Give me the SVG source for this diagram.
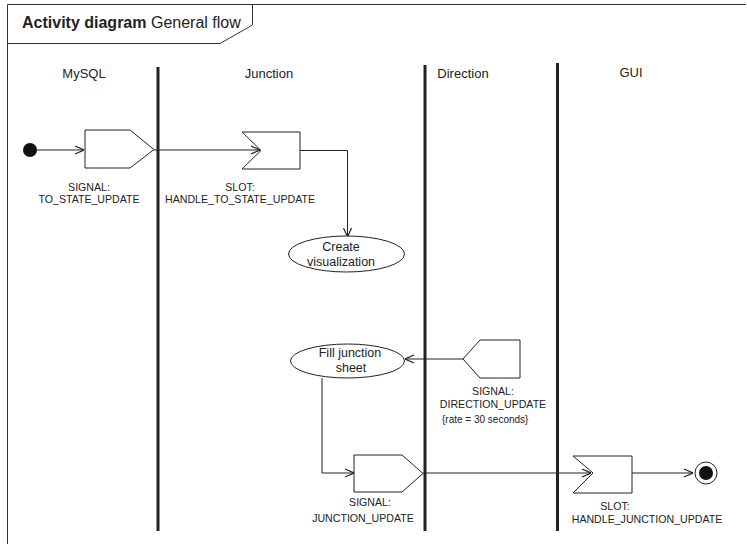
<svg xmlns="http://www.w3.org/2000/svg" width="747" height="544" viewBox="0 0 747 544">
<defs>
<marker id="arr" viewBox="0 0 10 10" refX="10" refY="5" markerWidth="10" markerHeight="10" markerUnits="userSpaceOnUse" orient="auto">
<path d="M1,1 L10,5 L1,9" fill="none" stroke="#222" stroke-width="1.2"/>
</marker>
<style>
text{font-family:"Liberation Sans",Arial,sans-serif;fill:#222}
.lane{font-size:13px;text-anchor:middle}
.lbl{font-size:10.6px;text-anchor:middle}
.nt{font-size:12.5px;text-anchor:middle}
.shape{fill:#fff;stroke:#222;stroke-width:1}
.conn{fill:none;stroke:#222;stroke-width:1;marker-end:url(#arr)}
.swim{stroke:#222;stroke-width:3}
.frame{fill:none;stroke:#333;stroke-width:1}
</style>
</defs>
<rect x="0" y="0" width="747" height="544" fill="#fff"/>
<g id="frame">
<path class="frame" d="M7.5,544 L7.5,4.5 L746,4.5"/>
<path class="frame" d="M7.5,43.5 L220,43.5 L252.5,25 L252.5,4.5"/>
<text x="22" y="28" font-size="16px"><tspan font-weight="bold">Activity diagram</tspan> General flow</text>
</g>
<g id="lanes">
<line class="swim" x1="158" y1="67" x2="158" y2="531"/>
<line class="swim" x1="425" y1="65" x2="425" y2="531"/>
<line class="swim" x1="557.5" y1="63" x2="557.5" y2="531"/>
<text class="lane" x="84" y="78">MySQL</text>
<text class="lane" x="269" y="78">Junction</text>
<text class="lane" x="463" y="78">Direction</text>
<text class="lane" x="631" y="77">GUI</text>
</g>
<g id="connectors">
<line class="conn" x1="37" y1="150" x2="84" y2="150"/>
<line class="conn" x1="154" y1="150" x2="260" y2="150"/>
<path class="conn" d="M300,150.5 L347.5,150.5 L347.5,237"/>
<line class="conn" x1="463" y1="359" x2="405" y2="359"/>
<path class="conn" d="M322,378 L322,473 L354,473"/>
<line class="conn" x1="423" y1="473" x2="591" y2="473"/>
<line class="conn" x1="632" y1="473" x2="693" y2="473"/>
</g>
<g id="start">
<circle cx="30" cy="150" r="7" fill="#111"/>
</g>
<g id="signal-to-state">
<polygon class="shape" points="85,130 130,130 154,149.5 130,168 85,168"/>
<text class="lbl" x="89" y="191">SIGNAL:</text>
<text class="lbl" x="89" y="203">TO_STATE_UPDATE</text>
</g>
<g id="slot-to-state">
<polygon class="shape" points="242,132 300,132 300,169 242,169 261,150.5"/>
<text class="lbl" x="240" y="191">SLOT:</text>
<text class="lbl" x="240" y="203">HANDLE_TO_STATE_UPDATE</text>
</g>
<g id="create-visualization">
<ellipse class="shape" cx="346.5" cy="254" rx="58" ry="18"/>
<text class="nt" x="341" y="251">Create</text>
<text class="nt" x="341" y="266">visualization</text>
</g>
<g id="fill-junction-sheet">
<ellipse class="shape" cx="347.5" cy="361" rx="57" ry="17"/>
<text class="nt" x="350" y="357">Fill junction</text>
<text class="nt" x="351" y="372">sheet</text>
</g>
<g id="signal-direction">
<polygon class="shape" points="463,359 480,340 520,340 520,378 480,378"/>
<text class="lbl" x="493" y="395">SIGNAL:</text>
<text class="lbl" x="493" y="408">DIRECTION_UPDATE</text>
<text x="442" y="423" font-size="10px">{rate = 30 seconds}</text>
</g>
<g id="signal-junction">
<polygon class="shape" points="354,455 402,455 423,473.5 402,492 354,492"/>
<text class="lbl" x="370" y="506">SIGNAL:</text>
<text class="lbl" x="363" y="522">JUNCTION_UPDATE</text>
</g>
<g id="slot-junction">
<polygon class="shape" points="573,456 632,456 632,493 573,493 593,473"/>
<text class="lbl" x="615" y="510">SLOT:</text>
<text class="lbl" x="647" y="523">HANDLE_JUNCTION_UPDATE</text>
</g>
<g id="end">
<circle cx="706" cy="473" r="11" fill="#fff" stroke="#222" stroke-width="1"/>
<circle cx="706" cy="473" r="7" fill="#111"/>
</g>
</svg>
